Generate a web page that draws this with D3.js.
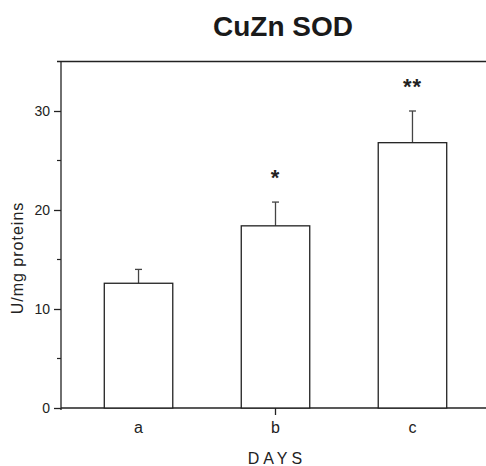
<!DOCTYPE html>
<meta charset="utf-8">
<script src="https://cdn.jsdelivr.net/npm/d3@7/dist/d3.min.js"></script>
<style type="text/css">
body { margin: 0; background: #fff; }
.axis line, .axis path { stroke: #222; stroke-width: 1.3; }
.axis text { fill: #222; font-family: Arial, "Liberation Sans", sans-serif; font-size: 14px; }
.bar { fill: #fff; stroke: #222; stroke-width: 1.3; }
.err { stroke: #444; stroke-width: 1.3; }
</style>
<body>
<div id="container"></div>
<script>

//-----------------------------DATA-----------------------------//
var days = ["a", "b", "c"];
var activity = [12.6, 18.4, 26.8];
var errors = [1.4, 2.4, 3.2];
var marks = ["", "*", "**"];
var yTicks = [0, 10, 20, 30];
var yMinor = [5, 15, 25];

var width = 486, height = 466;
var plotLeft = 61, plotRight = 490, plotTop = 61.5, plotBottom = 408;

var svg = d3.select("#container").append("svg")
    .attr("width", width)
    .attr("height", height);

//----------------------------SCALES----------------------------//
var x = d3.scaleBand()
    .domain(days)
    .range([plotLeft, plotRight])
    .paddingInner(0.5)
    .paddingOuter(0.316);

var y = d3.scaleLinear()
    .domain([0, 35])
    .range([plotBottom, plotTop]);

var font = "Arial, 'Liberation Sans', sans-serif";

//-----------------------------TITLE----------------------------//
svg.append("text")
    .attr("x", 283)
    .attr("y", 36)
    .attr("text-anchor", "middle")
    .style("font-family", font)
    .style("font-weight", "bold")
    .style("font-size", "28px")
    .style("fill", "#1a1a1a")
    .text("CuZn SOD");

//-----------------------------FRAME----------------------------//
svg.append("line")
    .attr("x1", plotLeft - 4).attr("x2", width)
    .attr("y1", y(35)).attr("y2", y(35))
    .style("stroke", "#222").style("stroke-width", 1.5);

svg.append("line")
    .attr("x1", plotLeft).attr("x2", width)
    .attr("y1", plotBottom).attr("y2", plotBottom)
    .style("stroke", "#222").style("stroke-width", 1.5);

//-----------------------------AXES-----------------------------//
var yAxis = d3.axisLeft(y)
    .tickValues(yTicks)
    .tickSize(7)
    .tickPadding(4)
    .tickFormat(d3.format("d"));

svg.append("g")
    .attr("class", "axis")
    .attr("transform", "translate(" + plotLeft + ",0)")
    .call(yAxis)
    .call(function(g) { g.select(".domain").attr("d", "M0," + (plotBottom + 2) + "V" + plotTop); });

svg.append("g")
    .selectAll("line")
    .data(yMinor)
    .enter()
    .append("line")
    .attr("x1", plotLeft - 4).attr("x2", plotLeft)
    .attr("y1", function(d) { return y(d); })
    .attr("y2", function(d) { return y(d); })
    .style("stroke", "#222").style("stroke-width", 1.2);

// only the middle tick shows on the x axis
svg.append("line")
    .attr("x1", x("b") + x.bandwidth() / 2)
    .attr("x2", x("b") + x.bandwidth() / 2)
    .attr("y1", plotBottom).attr("y2", plotBottom + 7)
    .style("stroke", "#222").style("stroke-width", 1.3);

svg.append("g")
    .selectAll("text")
    .data(days)
    .enter()
    .append("text")
    .attr("x", function(d) { return x(d) + x.bandwidth() / 2; })
    .attr("y", 433)
    .attr("text-anchor", "middle")
    .style("font-family", font)
    .style("font-size", "16px")
    .style("fill", "#222")
    .text(function(d) { return d; });

svg.append("text")
    .attr("x", 277)
    .attr("y", 464)
    .attr("text-anchor", "middle")
    .style("font-family", font)
    .style("font-size", "16px")
    .style("letter-spacing", "4px")
    .style("fill", "#222")
    .text("DAYS");

svg.append("text")
    .attr("transform", "translate(23," + 258 + ") rotate(-90)")
    .attr("text-anchor", "middle")
    .style("font-family", font)
    .style("font-size", "16px")
    .style("letter-spacing", "1px")
    .style("fill", "#222")
    .text("U/mg proteins");

//----------------------------BARS------------------------------//
var rows = days.map(function(d, i) {
    return { day: d, value: activity[i], err: errors[i], mark: marks[i] };
});

var cx = function(d) { return x(d.day) + x.bandwidth() / 2; };

var bars = svg.selectAll(".bars")
    .data(rows)
    .enter()
    .append("g");

bars.append("line")
    .attr("class", "err")
    .attr("x1", cx).attr("x2", cx)
    .attr("y1", function(d) { return y(d.value); })
    .attr("y2", function(d) { return y(d.value + d.err); });

bars.append("line")
    .attr("class", "err")
    .attr("x1", function(d) { return cx(d) - 3.5; })
    .attr("x2", function(d) { return cx(d) + 3.5; })
    .attr("y1", function(d) { return y(d.value + d.err); })
    .attr("y2", function(d) { return y(d.value + d.err); });

bars.append("rect")
    .attr("class", "bar")
    .attr("x", function(d) { return x(d.day); })
    .attr("width", x.bandwidth())
    .attr("y", function(d) { return y(d.value); })
    .attr("height", function(d) { return plotBottom - y(d.value); });

bars.append("text")
    .attr("x", cx)
    .attr("y", function(d) { return y(d.value + d.err) - 17; })
    .attr("text-anchor", "middle")
    .style("font-family", font)
    .style("font-weight", "bold")
    .style("font-size", "22px")
    .style("letter-spacing", "1px")
    .style("fill", "#222")
    .text(function(d) { return d.mark; });

</script>
</body>
